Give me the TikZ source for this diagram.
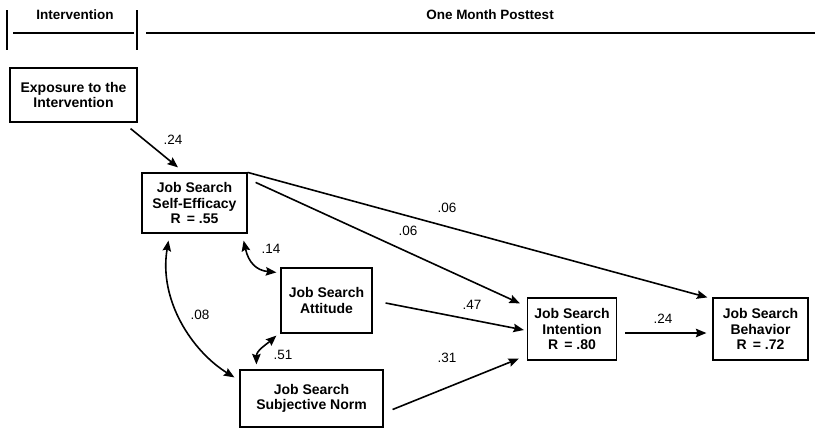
\documentclass[tikz,border=0pt]{standalone}
\usepackage{fontspec}
\setmainfont{Liberation Sans}
\usetikzlibrary{arrows.meta}
\begin{document}
\begin{tikzpicture}[x=1pt,y=-1pt,
  box/.style={draw,line width=1.2pt,inner sep=0pt,align=center,
    font=\fontsize{14}{15.5}\selectfont\bfseries},
  lab/.style={inner sep=0pt,font=\fontsize{13.5}{15}\selectfont},
  hdr/.style={inner sep=0pt,font=\fontsize{13.5}{15}\selectfont\bfseries},
  tip/.style={},
  arr/.style={line width=1.6pt,-{Stealth[length=10.5pt,width=8.5pt,inset=1.5pt]}},
  darr/.style={line width=1.6pt,{Stealth[length=10.5pt,width=8.5pt,inset=1.5pt]}-{Stealth[length=10.5pt,width=8.5pt,inset=1.5pt]}},
  rule/.style={line width=1.2pt}]
\useasboundingbox (0,0) rectangle (815,429);
% header
\coordinate (b1t) at (7,10); \coordinate (b1b) at (7,50);
\coordinate (b2t) at (137,10); \coordinate (b2b) at (137,50);
\coordinate (l1a) at (13,33); \coordinate (l1b) at (134,33);
\coordinate (l2a) at (146,33); \coordinate (l2b) at (815,33);
\draw[rule] (b1t) -- (b1b);
\draw[rule] (b2t) -- (b2b);
\draw[rule] (l1a) -- (l1b);
\draw[rule] (l2a) -- (l2b);
\node[hdr] (hint) at (75,15) {Intervention};
\node[hdr] (hpost) at (490,15) {One Month Posttest};
% boxes
\node[box,minimum width=127pt,minimum height=54pt] (exp) at (73.5,95) {Exposure to the\\Intervention};
\node[box,minimum width=105pt,minimum height=60pt] (se) at (194.5,203) {Job Search\\Self-Efficacy\\R \,= .55};
\node[box,minimum width=91pt,minimum height=65pt] (att) at (326.5,300.5) {Job Search\\Attitude};
\node[box,minimum width=143pt,minimum height=57pt] (sn) at (311.5,398.5) {Job Search\\Subjective Norm};
\node[box,minimum width=89pt,minimum height=62pt] (int) at (572,329) {Job Search\\Intention\\R \,= .80};
\node[box,minimum width=95pt,minimum height=62pt] (beh) at (760.5,329) {Job Search\\Behavior\\R \,= .72};
% arrows
\draw[arr] ([xshift=-7pt,yshift=-6pt]exp.south east) -- ([xshift=-16.5pt,yshift=5pt]se.north);
\draw[arr] (se.north east) -- ([xshift=-5pt]beh.north west);
\draw[arr] ([xshift=8pt,yshift=-10pt]se.north east) -- ([xshift=-7pt,yshift=-6pt]int.north west);
\draw[arr] ([xshift=13pt,yshift=-2.5pt]att.east) -- ([xshift=-3pt,yshift=-1pt]int.west);
\draw[arr] ([xshift=9pt,yshift=-11pt]sn.east) -- ([xshift=-8pt,yshift=2pt]int.south west);
\draw[arr] ([xshift=8pt,yshift=-4pt]int.east) -- ([xshift=-6pt,yshift=-4pt]beh.west);
\draw[darr] ([xshift=-4pt,yshift=-7pt]se.south east) .. controls +(5,22) and +(-20,-2) .. ([xshift=-4pt,yshift=-5pt]att.north west);
\draw[darr] ([xshift=-26pt,yshift=-7pt]se.south) .. controls +(-10,60) and +(-42,-26) .. ([xshift=-5pt,yshift=-8pt]sn.north west);
\draw[darr] ([xshift=17pt,yshift=5pt]sn.north west) .. controls +(0,-14) and +(-9,8) .. ([xshift=-4pt,yshift=-2pt]att.south west);
% labels
\node[lab] (l24a) at (173,140) {.24};
\node[lab] (l06a) at (447,208) {.06};
\node[lab] (l06b) at (408,231) {.06};
\node[lab] (l14) at (271,249) {.14};
\node[lab] (l08) at (200,315) {.08};
\node[lab] (l51) at (283,355) {.51};
\node[lab] (l47) at (472,305) {.47};
\node[lab] (l31) at (447,358) {.31};
\node[lab] (l24b) at (663,319) {.24};
\end{tikzpicture}
\end{document}
